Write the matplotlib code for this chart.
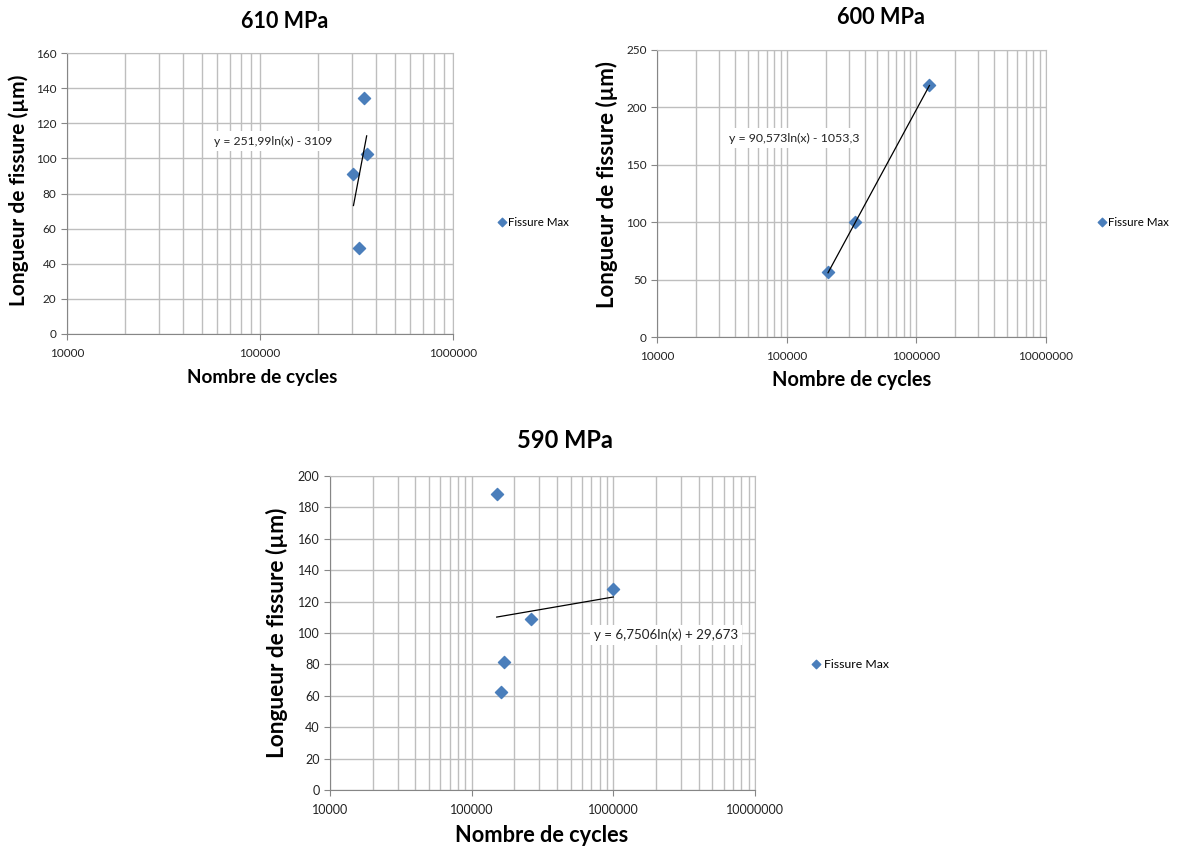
import matplotlib
matplotlib.use("Agg")
import matplotlib.pyplot as plt
import numpy as np
from matplotlib.ticker import LogLocator, FuncFormatter, MultipleLocator

plt.rcParams['font.family'] = ['Lato', 'DejaVu Sans']

# ---- data ----
cycles_610 = [305000, 324600, 344400, 357000]
crack_610 = [91.3, 49.2, 134.3, 102.6]
fit_610 = (251.99, -3109.0)
eq_610 = "y = 251,99ln(x) - 3109"

cycles_600 = [208400, 336500, 1262000]
crack_600 = [56.8, 99.8, 219.8]
fit_600 = (90.573, -1053.3)
eq_600 = "y = 90,573ln(x) - 1053,3"

cycles_590 = [150200, 160200, 168700, 260800, 1000000]
crack_590 = [188.6, 62.3, 81.4, 109.1, 127.8]
fit_590 = (6.7506, 29.673)
eq_590 = "y = 6,7506ln(x) + 29,673"

titles = ["610 MPa", "600 MPa", "590 MPa"]
series_name = "Fissure Max"
xlabel = "Nombre de cycles"
ylabel = "Longueur de fissure (\u00b5m)"

W, H = 1177, 850
fig = plt.figure(figsize=(W / 100, H / 100), dpi=100)
fig.patch.set_facecolor("white")

def rect(l, t, r, b):
    return [l / W, 1 - b / H, (r - l) / W, (b - t) / H]

def fx(px):
    return px / W

def fy(py):
    return 1 - py / H

blue = "#4A7EBB"
grid_c = "#BEBEBE"
axis_c = "#868686"

panels = [
    dict(box=(67, 53, 453, 334), x=cycles_610, y=crack_610, fit=fit_610, eq=eq_610,
         xlim=(1e4, 1e6), ylim=(0, 160), ystep=20, title=titles[0],
         title_pos=(285, 22), xl_pos=(262, 377), yl_pos=(19, 190),
         leg_pos=(490, 222), eq_pos=(273, 141),
         fs_title=15.5, fs_xl=13.6, fs_yl=15, fs_tick=8.5, fs_eq=8.7, fs_leg=8.3),
    dict(box=(657, 50, 1046, 337), x=cycles_600, y=crack_600, fit=fit_600, eq=eq_600,
         xlim=(1e4, 1e7), ylim=(0, 250), ystep=50, title=titles[1],
         title_pos=(881, 18), xl_pos=(852, 380), yl_pos=(607, 184),
         leg_pos=(1090, 222), eq_pos=(794, 138),
         fs_title=15.7, fs_xl=14.4, fs_yl=16, fs_tick=8.5, fs_eq=8.9, fs_leg=8.3),
    dict(box=(330, 476, 755, 790), x=cycles_590, y=crack_590, fit=fit_590, eq=eq_590,
         xlim=(1e4, 1e7), ylim=(0, 200), ystep=20, title=titles[2],
         title_pos=(565, 441), xl_pos=(542, 836), yl_pos=(277, 633),
         leg_pos=(804, 664), eq_pos=(666, 635),
         fs_title=17, fs_xl=15.7, fs_yl=16.3, fs_tick=9.0, fs_eq=9.6, fs_leg=8.8),
]

for p in panels:
    ax = fig.add_axes(rect(*p["box"]))
    ax.set_xscale("log")
    ax.set_xlim(*p["xlim"])
    ax.set_ylim(*p["ylim"])
    ax.yaxis.set_major_locator(MultipleLocator(p["ystep"]))
    ax.xaxis.set_major_locator(LogLocator(base=10, numticks=10))
    ax.xaxis.set_minor_locator(LogLocator(base=10, subs=np.arange(2, 10), numticks=100))
    ax.xaxis.set_major_formatter(FuncFormatter(lambda v, pos: "%d" % round(v)))
    ax.xaxis.set_minor_formatter(FuncFormatter(lambda v, pos: ""))
    ax.grid(True, which="major", axis="both", color=grid_c, linewidth=1.0)
    ax.grid(True, which="minor", axis="x", color=grid_c, linewidth=1.0)
    ax.set_axisbelow(True)
    for s in ["top", "right"]:
        ax.spines[s].set_color(grid_c)
    for s in ["left", "bottom"]:
        ax.spines[s].set_color(axis_c)
    ax.tick_params(axis="both", which="major", direction="out", length=4,
                   color=axis_c, labelsize=p["fs_tick"], labelcolor="#222222")
    ax.tick_params(axis="x", which="major", pad=6)
    ax.tick_params(axis="x", which="minor", length=0)

    ax.scatter(p["x"], p["y"], marker="D", s=38, color=blue, edgecolors=blue,
               zorder=3, label=series_name)
    a, b = p["fit"]
    xs = np.geomspace(min(p["x"]), max(p["x"]), 50)
    ax.plot(xs, a * np.log(xs) + b, color="black", linewidth=0.9, zorder=4)

    fig.text(fx(p["title_pos"][0]), fy(p["title_pos"][1]), p["title"],
             ha="center", va="center", fontsize=p["fs_title"], fontweight="bold")
    fig.text(fx(p["xl_pos"][0]), fy(p["xl_pos"][1]), xlabel,
             ha="center", va="center", fontsize=p["fs_xl"], fontweight="bold")
    fig.text(fx(p["yl_pos"][0]), fy(p["yl_pos"][1]), ylabel, rotation=90,
             ha="center", va="center", fontsize=p["fs_yl"], fontweight="bold")
    fig.text(fx(p["eq_pos"][0]), fy(p["eq_pos"][1]), p["eq"],
             ha="center", va="center", fontsize=p["fs_eq"], color="#222222",
             bbox=dict(facecolor="white", edgecolor="none", pad=3), zorder=5)
    ax.legend(loc="center left", bbox_to_anchor=(fx(p["leg_pos"][0]), fy(p["leg_pos"][1])),
              bbox_transform=fig.transFigure, frameon=False, fontsize=p["fs_leg"],
              handletextpad=0.1, handlelength=1.0, markerscale=0.7, borderpad=0)

fig.savefig("out.png", dpi=100)
